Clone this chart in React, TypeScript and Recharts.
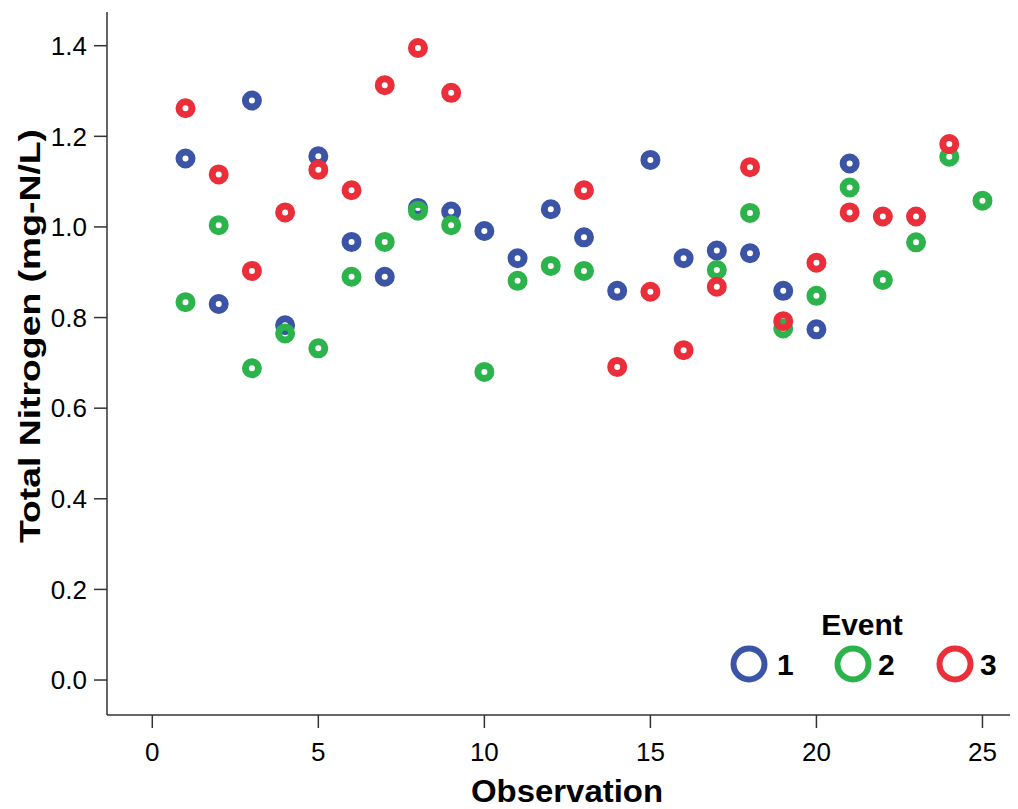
import React from "react";
import {
  ScatterChart,
  Scatter,
  XAxis,
  YAxis,
  Legend,
} from "recharts";

// observation numbers for each event
const obsEvent1 = [1, 2, 3, 4, 5, 6, 7, 8, 9, 10, 11, 12, 13, 14, 15, 16, 17, 18, 19, 20, 21];
const obsEvent2 = [1, 2, 3, 4, 5, 6, 7, 8, 9, 10, 11, 12, 13, 17, 18, 19, 20, 21, 22, 23, 24, 25];
const obsEvent3 = [1, 2, 3, 4, 5, 6, 7, 8, 9, 13, 14, 15, 16, 17, 18, 19, 20, 21, 22, 23, 24];

// total nitrogen, mg-N/L
const tnEvent1 = [
  1.151, 0.83, 1.279, 0.783, 1.156, 0.967, 0.89, 1.042, 1.034, 0.991, 0.931,
  1.039, 0.977, 0.859, 1.148, 0.931, 0.948, 0.942, 0.859, 0.774, 1.14,
];
const tnEvent2 = [
  0.834, 1.004, 0.688, 0.765, 0.732, 0.89, 0.967, 1.036, 1.004, 0.68, 0.881,
  0.914, 0.903, 0.905, 1.031, 0.776, 0.848, 1.087, 0.883, 0.966, 1.155, 1.058,
];
const tnEvent3 = [
  1.262, 1.116, 0.903, 1.032, 1.126, 1.081, 1.313, 1.395, 1.296, 1.081, 0.691,
  0.857, 0.728, 0.868, 1.132, 0.792, 0.921, 1.032, 1.023, 1.023, 1.183,
];

const eventNames = ["1", "2", "3"];
const eventColors = ["#3b54a6", "#2db34b", "#ea2f3b"];

const xTicks = [0, 5, 10, 15, 20, 25];
const yTicks = [0, 0.2, 0.4, 0.6, 0.8, 1.0, 1.2, 1.4];

const xTitle = "Observation";
const yTitle = "Total Nitrogen (mg-N/L)";
const legendTitle = "Event";

const FONT = '"Liberation Sans", Arial, sans-serif';

const toPoints = (obs: number[], tn: number[]) =>
  obs.map((o, i) => ({ obs: o, tn: tn[i] }));

const series = [
  toPoints(obsEvent1, tnEvent1),
  toPoints(obsEvent2, tnEvent2),
  toPoints(obsEvent3, tnEvent3),
];

const Ring = (props: any) => {
  const { cx, cy, fill } = props;
  if (cx == null || cy == null) return null;
  return (
    <circle cx={cx} cy={cy} r={6.5} fill="none" stroke={fill} strokeWidth={7} />
  );
};

const EventLegend = (props: any) => {
  const payload = props.payload || [];
  const ringX = [21, 125, 227];
  const labelX = [49, 150, 252];
  return (
    <svg width={300} height={90}>
      <text
        x={134}
        y={37}
        textAnchor="middle"
        fontFamily={FONT}
        fontWeight="bold"
        fontSize={30}
        fill="#000"
      >
        {legendTitle}
      </text>
      {payload.map((entry: any, i: number) => (
        <g key={entry.value}>
          <circle
            cx={ringX[i]}
            cy={66}
            r={15.5}
            fill="none"
            stroke={entry.color}
            strokeWidth={6}
          />
          <text
            x={labelX[i]}
            y={77}
            fontFamily={FONT}
            fontWeight="bold"
            fontSize={30}
            fill="#000"
          >
            {entry.value}
          </text>
        </g>
      ))}
    </svg>
  );
};

const App = () => {
  return (
    <div style={{ position: "relative", width: 1010, height: 801 }}>
      <ScatterChart
        width={1010}
        height={801}
        margin={{ top: 4, right: 0, left: 0, bottom: 0 }}
      >
        <XAxis
          type="number"
          dataKey="obs"
          domain={[-1.364, 26.07]}
          allowDataOverflow
          ticks={xTicks}
          height={94}
          tickSize={13}
          tickMargin={15}
          stroke="#333"
          strokeWidth={1.5}
          tick={{ fill: "#000", fontSize: 26, fontFamily: FONT }}
        />
        <YAxis
          type="number"
          dataKey="tn"
          domain={[-0.0772, 1.4744]}
          allowDataOverflow
          ticks={yTicks}
          width={99}
          tickSize={13}
          tickMargin={7}
          stroke="#333"
          strokeWidth={1.5}
          tickFormatter={(v: number) => v.toFixed(1)}
          tick={{ fill: "#000", fontSize: 26, fontFamily: FONT }}
        />
        <Legend
          layout="horizontal"
          verticalAlign="middle"
          align="center"
          content={<EventLegend />}
          wrapperStyle={{ position: "absolute", left: 720, top: 590, width: 300, height: 90 }}
        />
        {series.map((points, i) => (
          <Scatter
            key={eventNames[i]}
            name={eventNames[i]}
            data={points}
            fill={eventColors[i]}
            shape={<Ring />}
            isAnimationActive={false}
          />
        ))}
      </ScatterChart>
      <svg
        width={1010}
        height={801}
        style={{ position: "absolute", left: 0, top: 0, pointerEvents: "none" }}
      >
        <text
          x={559}
          y={794}
          textAnchor="middle"
          fontFamily={FONT}
          fontWeight="bold"
          fontSize={31}
          textLength={192}
          lengthAdjust="spacingAndGlyphs"
          fill="#000"
        >
          {xTitle}
        </text>
        <text
          x={0}
          y={0}
          transform="translate(32, 328) rotate(-90)"
          textAnchor="middle"
          fontFamily={FONT}
          fontWeight="bold"
          fontSize={30}
          textLength={414}
          lengthAdjust="spacingAndGlyphs"
          fill="#000"
        >
          {yTitle}
        </text>
      </svg>
    </div>
  );
};

export default App;
